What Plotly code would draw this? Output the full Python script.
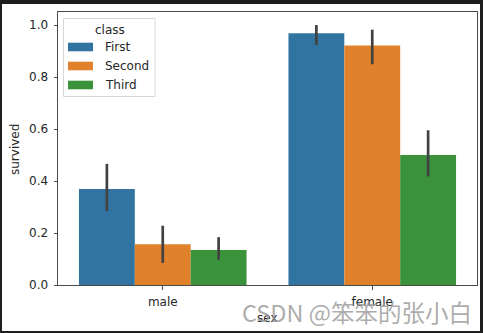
import plotly.graph_objects as go

# Titanic survival rate by sex and passenger class
sexes = ["male", "female"]
classes = ["First", "Second", "Third"]
survived = {
    "First": [0.369, 0.968],
    "Second": [0.157, 0.921],
    "Third": [0.135, 0.500],
}
ci_low = {
    "First": [0.284, 0.923],
    "Second": [0.085, 0.849],
    "Third": [0.097, 0.418],
}
ci_high = {
    "First": [0.466, 1.000],
    "Second": [0.228, 0.982],
    "Third": [0.184, 0.595],
}
colors = {"First": "#3274a1", "Second": "#e1812c", "Third": "#3a923a"}
y_ticks = [0.0, 0.2, 0.4, 0.6, 0.8, 1.0]

W, H = 483, 333
L, R, T, B = 58, 6, 12, 48
PW, PH = W - L - R, H - T - B
FONT = dict(family="DejaVu Sans", size=12, color="#262626")


def px(x):
    return (x - L) / PW


def py(y):
    return (H - B - y) / PH


fig = go.Figure()
for c in classes:
    vals = survived[c]
    fig.add_trace(go.Bar(
        x=sexes, y=vals, name=c,
        marker=dict(color=colors[c], line=dict(width=0)),
        error_y=dict(
            type="data", symmetric=False,
            array=[h - v for h, v in zip(ci_high[c], vals)],
            arrayminus=[v - lo for v, lo in zip(vals, ci_low[c])],
            width=0, thickness=2.7, color="#424242",
        ),
        showlegend=False,
    ))

shapes = [
    # white page area inside the dark frame
    dict(type="rect", xref="paper", yref="paper", layer="below",
         x0=px(2), x1=px(480), y0=py(4), y1=py(331),
         fillcolor="white", line=dict(width=0)),
    # legend box
    dict(type="rect", xref="paper", yref="paper", layer="above",
         x0=px(63.5), x1=px(155), y0=py(18.5), y1=py(96.5),
         fillcolor="rgba(255,255,255,0.8)", line=dict(color="#d6d6d6", width=1)),
]
annotations = [
    dict(text="class", x=px(109.5), y=py(29.5), xref="paper", yref="paper",
         showarrow=False, xanchor="center", yanchor="middle", font=FONT),
]
for i, c in enumerate(classes):
    yc = 47 + i * 19
    shapes.append(dict(type="rect", xref="paper", yref="paper", layer="above",
                       x0=px(68), x1=px(93), y0=py(yc - 4.3), y1=py(yc + 4.3),
                       fillcolor=colors[c], line=dict(width=0)))
    annotations.append(dict(text=c, x=px(102.5), y=py(yc), xref="paper", yref="paper",
                            showarrow=False, xanchor="left", yanchor="middle", font=FONT))

# axis titles
annotations.append(dict(text="survived", x=px(15), y=py(150), xref="paper", yref="paper",
                        showarrow=False, xanchor="center", yanchor="middle",
                        textangle=-90, font=FONT))
annotations.append(dict(text="sex", x=px(267), y=py(318), xref="paper", yref="paper",
                        showarrow=False, xanchor="center", yanchor="middle", font=FONT))
# watermark
annotations.append(dict(text="CSDN @笨笨的张小白", x=px(240), y=py(312), xref="paper", yref="paper",
                        showarrow=False, xanchor="left", yanchor="middle",
                        font=dict(family="Noto Sans CJK SC", size=23.5,
                                  color="rgba(150,150,150,0.8)")))

fig.update_layout(
    width=W, height=H,
    margin=dict(l=L, r=R, t=T, b=B, pad=0),
    paper_bgcolor="#1e1e1e",
    plot_bgcolor="white",
    barmode="group", bargap=0.2, bargroupgap=0,
    shapes=shapes, annotations=annotations,
    showlegend=False,
    font=FONT,
    xaxis=dict(
        type="category", range=[-0.5, 1.5],
        showgrid=False, zeroline=False,
        showline=True, linecolor="#4a4a4a", linewidth=1, mirror=True,
        ticks="outside", ticklen=3.5, tickcolor="#4a4a4a",
        ticklabelstandoff=2, tickfont=FONT,
    ),
    yaxis=dict(
        range=[0, 1.05], tickvals=y_ticks, tickformat=".1f",
        showgrid=False, zeroline=False,
        showline=True, linecolor="#4a4a4a", linewidth=1, mirror=True,
        ticks="outside", ticklen=3.5, tickcolor="#4a4a4a",
        ticklabelstandoff=3, tickfont=FONT,
    ),
)

fig.write_html("out.html")
